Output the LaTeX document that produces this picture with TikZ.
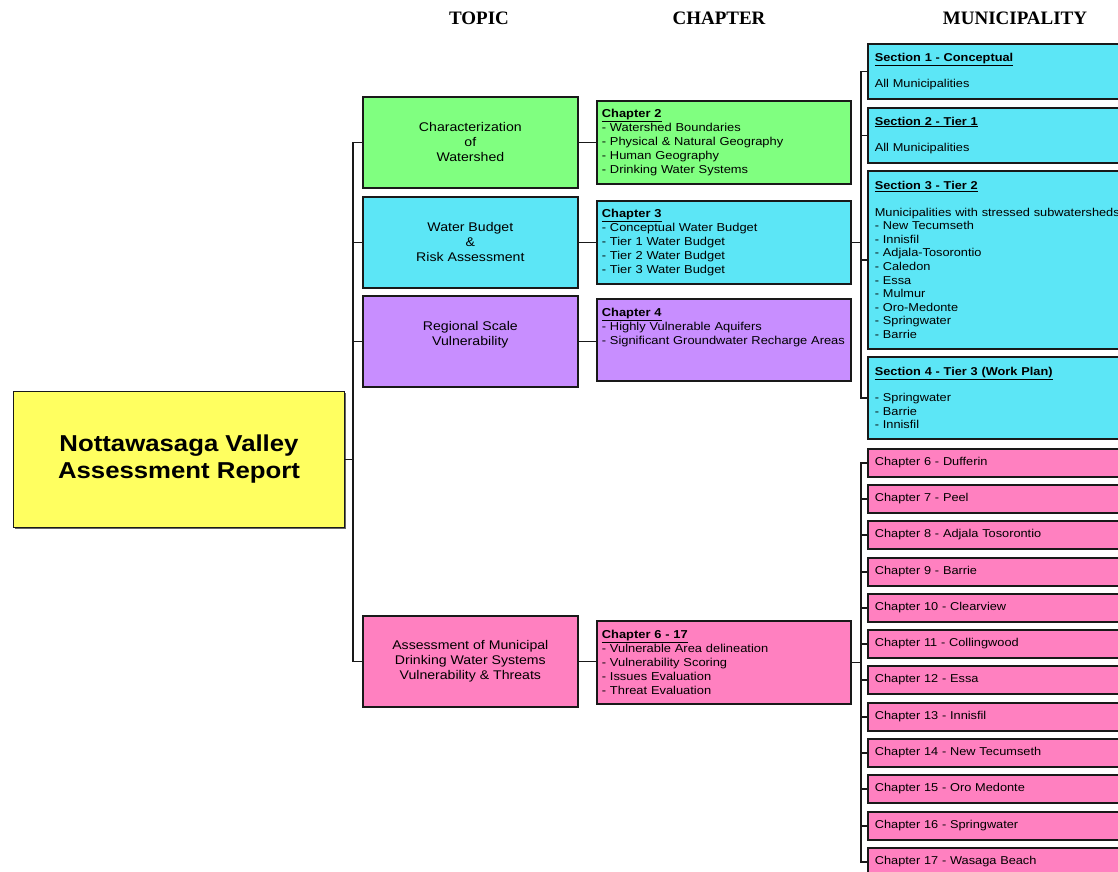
\documentclass[tikz,border=0pt]{standalone}
\usepackage{fontspec}
\setmainfont{Liberation Sans}[FakeStretch=1.12]
\newfontfamily\headfont{Liberation Serif}
\usepackage{xcolor}
\usetikzlibrary{shadows}
\definecolor{leaf}{RGB}{128, 255, 128}
\definecolor{aqua}{RGB}{92, 230, 246}
\definecolor{lilac}{RGB}{200, 142, 255}
\definecolor{rose}{RGB}{255, 128, 192}
\definecolor{lemon}{RGB}{255, 255, 96}

\begin{document}
\begin{tikzpicture}[x=1pt, y=-1pt,
  box/.style={draw=black!90, line width=1.7pt, anchor=north west, inner sep=5pt,
    drop shadow={shadow xshift=1.6pt, shadow yshift=-1.6pt, fill=black!60, opacity=1}},
  topicbox/.style={box, minimum width=215pt, minimum height=91pt, align=center, font=\fontsize{12.6}{15}\selectfont},
  chapbox/.style={box, text width=244pt, minimum height=83pt, align=left, font=\fontsize{11.5}{14}\selectfont},
  secbox/.style={box, inner xsep=7pt, text width=260pt, align=left, font=\fontsize{11.4}{13.6}\selectfont, fill=aqua},
  munbox/.style={box, inner xsep=7pt, text width=260pt, minimum height=28pt, align=left, font=\fontsize{11.4}{13.6}\selectfont, fill=rose},
  head/.style={font=\headfont\bfseries\fontsize{19}{22}\selectfont},
  wire/.style={draw=black!90, line width=1.6pt}]
\useasboundingbox (0,0) rectangle (1118,871);

\node[head] (htopic) at (479,18) {TOPIC};
\node[head] (hchapter) at (719,18) {CHAPTER};
\node[head] (hmun) at (1015,18) {MUNICIPALITY};

\node[box, fill=lemon, line width=1pt, minimum width=331pt, minimum height=136pt, align=center,
  font=\bfseries\fontsize{23}{27}\selectfont] (root) at (13,391) {Nottawasaga Valley\\Assessment Report};

\node[topicbox, fill=leaf] (t1) at (362,96) {Characterization\\of\\Watershed};
\node[topicbox, fill=aqua] (t2) at (362,196) {Water Budget\\\&\\Risk Assessment};
\node[topicbox, fill=lilac] (t3) at (362,295) {Regional Scale\\Vulnerability\\~};
\node[topicbox, fill=rose] (t4) at (362,615) {Assessment of Municipal\\Drinking Water Systems\\Vulnerability \& Threats};

\node[chapbox, fill=leaf] (ch2) at (596,100) {\underline{\textbf{Chapter 2}}\\- Watershed Boundaries\\- Physical \& Natural Geography\\- Human Geography\\- Drinking Water Systems};
\node[chapbox, fill=aqua] (ch3) at (596,200) {\underline{\textbf{Chapter 3}}\\- Conceptual Water Budget\\- Tier 1 Water Budget\\- Tier 2 Water Budget\\- Tier 3 Water Budget};
\node[chapbox, fill=lilac, minimum height=0pt] (ch4) at (596,298) {\rule{0pt}{13pt}\underline{\textbf{Chapter 4}}\\- Highly Vulnerable Aquifers\\- Significant Groundwater Recharge Areas\rule[-31pt]{0pt}{0pt}};
\node[chapbox, fill=rose] (ch6) at (596,620) {\underline{\textbf{Chapter 6 - 17}}\\- Vulnerable Area delineation\\- Vulnerability Scoring\\- Issues Evaluation\\- Threat Evaluation};

\node[secbox, minimum height=55pt] (sec1) at (867,43) {\underline{\textbf{Section 1 - Conceptual}}\\[13pt]All Municipalities};
\node[secbox, minimum height=55pt] (sec2) at (867,107) {\underline{\textbf{Section 2 - Tier 1}}\\[13pt]All Municipalities};
\node[secbox, minimum height=178pt] (sec3) at (867,170) {\underline{\textbf{Section 3 - Tier 2}}\\[13pt]Municipalities with stressed subwatersheds\\- New Tecumseth\\- Innisfil\\- Adjala-Tosorontio\\- Caledon\\- Essa\\- Mulmur\\- Oro-Medonte\\- Springwater\\- Barrie};
\node[secbox, minimum height=82pt] (sec4) at (867,356) {\underline{\textbf{Section 4 - Tier 3 (Work Plan)}}\\[13pt]- Springwater\\- Barrie\\- Innisfil};

\node[munbox] (mun6) at (867,448) {Chapter 6 - Dufferin};
\node[munbox] (mun7) at (867,484) {Chapter 7 - Peel};
\node[munbox] (mun8) at (867,520) {Chapter 8 - Adjala Tosorontio};
\node[munbox] (mun9) at (867,557) {Chapter 9 - Barrie};
\node[munbox] (mun10) at (867,593) {Chapter 10 - Clearview};
\node[munbox] (mun11) at (867,629) {Chapter 11 - Collingwood};
\node[munbox] (mun12) at (867,665) {Chapter 12 - Essa};
\node[munbox] (mun13) at (867,702) {Chapter 13 - Innisfil};
\node[munbox] (mun14) at (867,738) {Chapter 14 - New Tecumseth};
\node[munbox] (mun15) at (867,774) {Chapter 15 - Oro Medonte};
\node[munbox] (mun16) at (867,811) {Chapter 16 - Springwater};
\node[munbox] (mun17) at (867,847) {Chapter 17 - Wasaga Beach};

\draw[wire] (root.east) -- ++(8,0) |- (t1.west);
\draw[wire] (root.east) -- ++(8,0) |- (t2.west);
\draw[wire] (root.east) -- ++(8,0) |- (t3.west);
\draw[wire] (root.east) -- ++(8,0) |- (t4.west);

\draw[wire] (t1.east) -- (t1.east -| ch2.west);
\draw[wire] (t2.east) -- (t2.east -| ch3.west);
\draw[wire] (t3.east) -- (t3.east -| ch4.west);
\draw[wire] (t4.east) -- (t4.east -| ch6.west);

\draw[wire] (ch3.east) -- ++(9,0) |- (sec1.west);
\draw[wire] (ch3.east) -- ++(9,0) |- (sec2.west);
\draw[wire] (ch3.east) -- ++(9,0) |- (sec3.west);
\draw[wire] (ch3.east) -- ++(9,0) |- (sec4.west);

\draw[wire] (ch6.east) -- ++(9,0) |- (mun6.west);
\draw[wire] (ch6.east) -- ++(9,0) |- (mun7.west);
\draw[wire] (ch6.east) -- ++(9,0) |- (mun8.west);
\draw[wire] (ch6.east) -- ++(9,0) |- (mun9.west);
\draw[wire] (ch6.east) -- ++(9,0) |- (mun10.west);
\draw[wire] (ch6.east) -- ++(9,0) |- (mun11.west);
\draw[wire] (ch6.east) -- ++(9,0) |- (mun12.west);
\draw[wire] (ch6.east) -- ++(9,0) |- (mun13.west);
\draw[wire] (ch6.east) -- ++(9,0) |- (mun14.west);
\draw[wire] (ch6.east) -- ++(9,0) |- (mun15.west);
\draw[wire] (ch6.east) -- ++(9,0) |- (mun16.west);
\draw[wire] (ch6.east) -- ++(9,0) |- (mun17.west);

\end{tikzpicture}
\end{document}
